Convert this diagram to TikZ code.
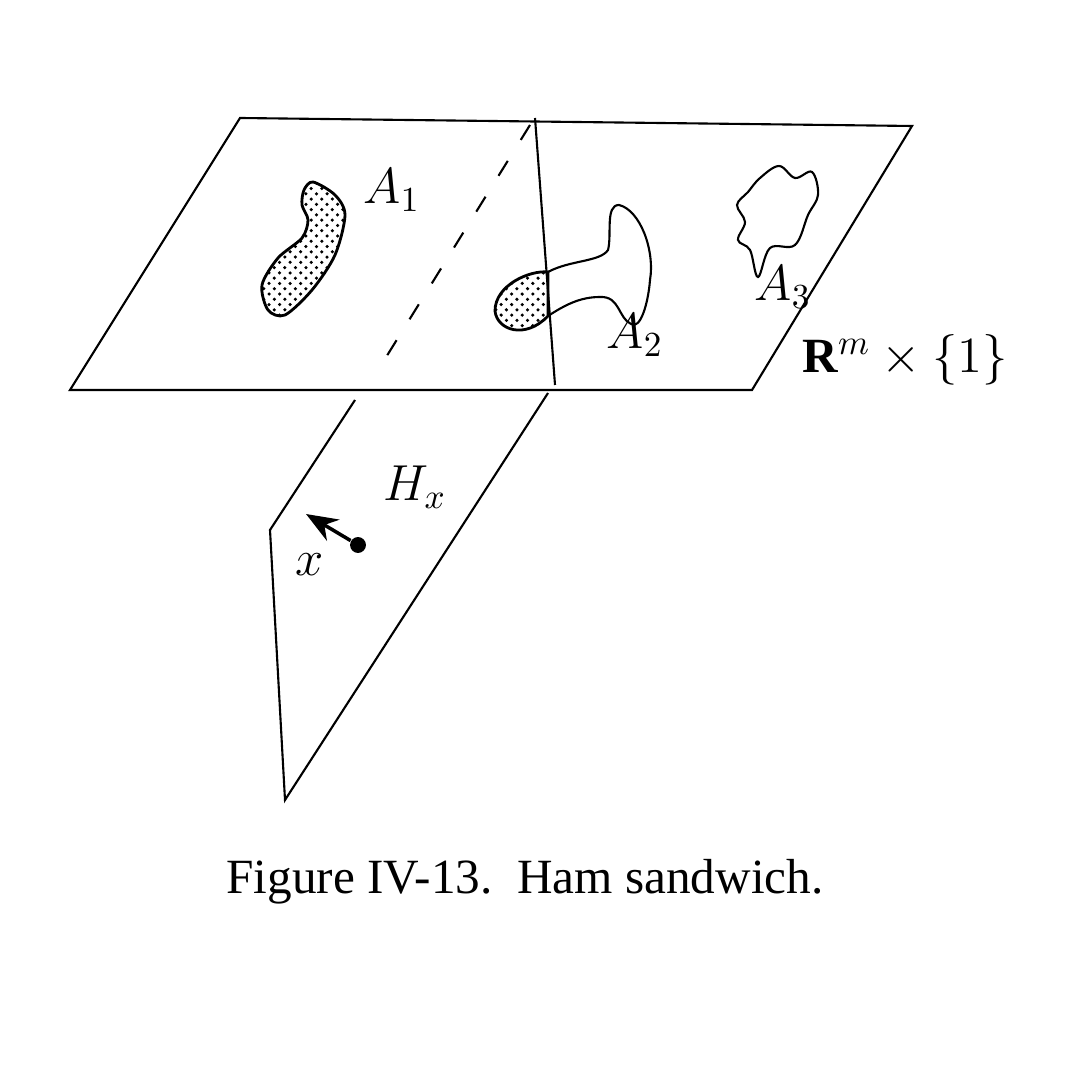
\documentclass[tikz,border=0pt]{standalone}
\usepackage{fontspec}
\setmainfont{Liberation Serif}
\usetikzlibrary{arrows.meta}
\usetikzlibrary{patterns}

\begin{document}
\begin{tikzpicture}[x=0.01cm,y=-0.01cm,>={Stealth[black,length=9pt,width=7pt]},
    edge/.style={draw=black,line width=0.6pt},
    ham/.style={draw=black,line width=0.8pt,pattern=crosshatch dots},
    lbl/.style={font=\fontsize{14}{16}\selectfont}]
        \useasboundingbox (0,0) rectangle (1080,1080);

        % the plane R^m x {1}
        \coordinate (P1) at (240,118);
        \coordinate (P2) at (912,126);
        \coordinate (P3) at (752,390);
        \coordinate (P4) at (70,390);
        \draw[edge] (P1) -- (P2) -- (P3) -- (P4) -- cycle;

        % the hyperplane H_x
        \coordinate (T1) at (535,118);
        \coordinate (T2) at (555,385);
        \coordinate (T3) at (530,125);
        \coordinate (T4) at (375,375);
        \coordinate (H1) at (355,400);
        \coordinate (H2) at (270,530);
        \coordinate (H3) at (285,800);
        \coordinate (H4) at (548,393);
        \draw[edge] (T1) -- (T2);
        \draw[edge, dash pattern=on 5pt off 7pt] (T3) -- (T4);
        \draw[edge] (H1) -- (H2) -- (H3) -- (H4);

        % the sets
        \draw[ham] plot[smooth cycle] coordinates {(313,182) (335,195) (345,215) (335,255) (312,290)
            (285,315) (268,310) (262,285) (278,258) (302,238) (308,220) (302,205) (304,190)};
        \draw[ham] (548,272) .. controls (530,270) and (495,285) .. (495,311)
            .. controls (497,330) and (525,340) .. (548,316) -- cycle;
        \draw[edge] (548,272) .. controls (570,260) and (600,262) .. (608,250)
            .. controls (612,235) and (605,205) .. (619,205)
            .. controls (640,210) and (655,250) .. (650,280)
            .. controls (648,305) and (640,330) .. (631,324)
            .. controls (618,318) and (620,296) .. (600,297)
            .. controls (580,297) and (565,305) .. (548,316);
        \draw[edge] plot[smooth cycle, tension=0.6] coordinates {(779,166) (795,178) (812,172) (818,195)
            (808,215) (795,245) (770,248) (758,277) (750,250) (738,240) (745,222) (737,205)
            (748,192) (760,178)};

        % labels
        \node[lbl] (A1) at (392,190) {$A_1$};
        \node[lbl] (A2) at (635,335) {$A_2$};
        \node[lbl] (A3) at (783,287) {$A_3$};
        \node[lbl, anchor=west] (R) at (790,360) {$\mathbf{R}^m\times\{1\}$};
        \node[lbl] (Hx) at (415,487) {$H_x$};
        \node[lbl] (x) at (310,565) {$x$};

        \node[circle, fill=black, inner sep=1.6pt] (dot) at (358,545) {};
        \coordinate (tip) at (306,514);
        \draw[->, line width=1pt] (dot) -- (tip);

        \node[font=\fontsize{14}{16}\selectfont] (cap) at (525,882) {Figure IV-13.\ \ Ham sandwich.};

    \end{tikzpicture}
\end{document}
